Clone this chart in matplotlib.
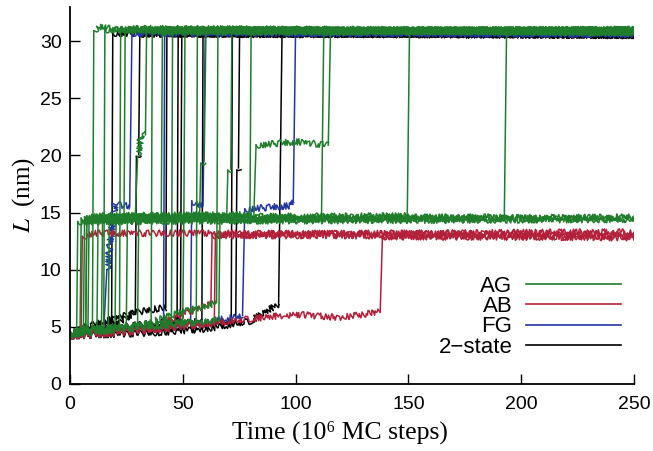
import matplotlib
matplotlib.use("Agg")
import matplotlib.pyplot as plt
from matplotlib.lines import Line2D

plt.rcParams['font.family'] = ['Liberation Sans', 'DejaVu Sans']
plt.rcParams['mathtext.fontset'] = 'stix'

# Trajectories of L (nm) against time (10^6 MC steps).
# Each run is a list of (time, L) breakpoints.
ag_runs = [
    [(0, 4.6), (10, 4.9), (10.6, 30.9), (13, 31.3), (20, 31.0), (250, 30.9)],
    [(0, 4.5), (3, 4.6), (3.5, 14.2), (250, 14.4)],
    [(0, 4.4), (4.5, 4.6), (5, 14.5), (192.5, 14.6), (193.5, 30.8), (250, 31.0)],
    [(0, 4.5), (6, 4.7), (6.5, 14.6), (149.5, 14.7), (150.5, 30.9), (250, 30.7)],
    [(0, 4.3), (8, 4.6), (8.5, 14.4), (111.5, 14.5), (112.5, 30.8), (250, 30.9)],
    [(0, 4.5), (12, 4.8), (12.5, 14.6), (81.5, 14.7), (82.5, 20.9), (100, 21.2), (114.5, 20.9), (115.5, 30.9), (250, 31.0)],
    [(0, 4.4), (15, 4.8), (15.5, 31.0), (250, 30.8)],
    [(0, 4.6), (17, 4.9), (17.5, 14.5), (29, 14.7), (30, 19.9), (31.5, 21.7), (33.5, 21.8), (34, 31.0), (250, 30.9)],
    [(0, 4.5), (22, 5.0), (22.5, 31.1), (250, 30.9)],
    [(0, 4.3), (14, 4.7), (14.5, 14.4), (24, 14.6), (24.5, 31.0), (250, 30.8)],
    [(0, 4.6), (36, 5.2), (36.5, 30.9), (250, 31.0)],
    [(0, 4.4), (20, 4.9), (20.5, 14.5), (40.5, 14.6), (41, 30.8), (250, 30.9)],
    [(0, 4.5), (45, 5.3), (45.5, 31.0), (250, 30.8)],
    [(0, 4.4), (25, 5.0), (25.5, 14.6), (50.5, 14.5), (51, 30.9), (250, 31.0)],
    [(0, 4.5), (50, 5.4), (50.5, 14.5), (57.5, 14.7), (58, 19.3), (59.5, 19.5), (60.3, 30.9), (250, 30.8)],
    [(0, 4.3), (30, 5.0), (45, 6.0), (65, 7.1), (65.6, 31.0), (250, 30.9)],
    [(0, 4.6), (30, 5.1), (30.5, 14.5), (69.5, 14.6), (70, 18.7), (71.3, 18.8), (71.8, 30.9), (250, 31.0)],
    [(0, 4.4), (40, 5.1), (66, 5.6), (66.5, 14.4), (250, 14.5)],
    [(0, 4.5), (7, 4.7), (7.5, 14.7), (79.8, 14.8), (80.3, 30.8), (250, 30.9)],
    [(0, 4.4), (56, 5.4), (56.5, 31.0), (250, 30.9)],
    [(0, 4.5), (7, 4.8), (7.5, 14.3), (250, 14.6)],
]

ab_runs = [
    [(0, 4.3), (5, 4.5), (5.5, 12.9), (10, 13.2), (250, 13.1)],
    [(0, 4.4), (40, 5.2), (62.5, 7.1), (63, 13.0), (250, 12.9)],
    [(0, 4.2), (30, 4.6), (64, 5.5), (64.5, 13.1), (250, 13.3)],
    [(0, 4.3), (40, 4.8), (60, 5.2), (80, 5.7), (100, 6.1), (120, 5.8), (137.5, 6.3), (138.5, 12.9), (250, 12.8)],
]

fg_runs = [
    [(0, 4.4), (15, 4.8), (16.4, 10.0), (20, 15.8), (26.5, 15.5), (27.5, 30.7), (250, 30.6)],
    [(0, 4.5), (53.5, 5.3), (54, 16.0), (59, 15.6), (60, 30.8), (250, 30.7)],
    [(0, 4.3), (50, 5.0), (76.5, 6.0), (77.5, 15.3), (98, 15.6), (99, 16.0), (100, 30.7), (250, 30.6)],
    [(0, 4.2), (41.5, 4.9), (42, 30.8), (250, 30.7)],
]

two_state_runs = [
    [(0, 4.5), (18.5, 5.0), (19, 30.7), (250, 30.5)],
    [(0, 4.4), (20, 5.2), (29, 6.3), (29.5, 19.9), (30.5, 20.1), (31, 30.6), (250, 30.6)],
    [(0, 4.6), (30, 6.3), (42.5, 6.7), (43, 30.7), (250, 30.5)],
    [(0, 4.4), (47.5, 5.4), (48, 30.6), (250, 30.6)],
    [(0, 4.5), (49, 5.6), (49.6, 30.7), (250, 30.5)],
    [(0, 4.3), (58.5, 5.5), (59, 30.6), (250, 30.6)],
    [(0, 4.4), (60, 5.2), (73.5, 5.6), (74, 18.7), (74.7, 18.9), (75.2, 30.6), (250, 30.5)],
    [(0, 4.2), (40, 4.5), (60, 4.8), (80, 5.5), (92.5, 7.0), (94, 30.6), (250, 30.6)],
    [(0, 4.5), (71.5, 5.5), (72, 30.7), (250, 30.6)],
]

groups = ['AG', 'AB', 'FG', '2\u2212state']
group_runs = [ag_runs, ab_runs, fg_runs, two_state_runs]
colors = ['#1f7d2b', '#b3203a', '#2236a0', '#000000']
draw_order = [3, 2, 1, 0]


def split_run(run):
    # break a run into plateau pieces and jump pieces
    pieces = []
    cur = [run[0]]
    cur_jump = None
    for a, b in zip(run[:-1], run[1:]):
        jump = abs(b[1] - a[1]) / max(b[0] - a[0], 1e-6) > 2
        if cur_jump is None or jump == cur_jump:
            cur.append(b)
        else:
            pieces.append((cur_jump, cur))
            cur = [a, b]
        cur_jump = jump
    pieces.append((cur_jump, cur))
    return pieces


fig = plt.figure(figsize=(6.53, 4.51), dpi=100)
ax = fig.add_axes([0.107, 0.1486, 0.864, 0.8364])

for g in draw_order:
    for run in group_runs[g]:
        for jump, pts in split_run(run):
            t = [p[0] for p in pts]
            L = [p[1] for p in pts]
            line, = ax.plot(t, L, color=colors[g], lw=1.1)
            if not jump:
                line.set_sketch_params(scale=3.2, length=2.5, randomness=4)

ax.set_xlim(0, 250)
ax.set_ylim(0, 33)
ax.set_xticks(range(0, 251, 50))
ax.set_yticks(range(0, 31, 5))
ax.spines['top'].set_visible(False)
ax.spines['right'].set_visible(False)
ax.spines['left'].set_linewidth(1.3)
ax.spines['bottom'].set_linewidth(1.3)
ax.tick_params(direction='in', length=7, width=1.0, labelsize=14, pad=6)
ax.tick_params(axis='x', pad=9)

ax.set_xlabel('Time (10\u2076 MC steps)', family='Liberation Serif', fontsize=18.5)
ax.xaxis.set_label_coords(0.479, -0.097)
ax.set_ylabel('$L$  (nm)', family='Liberation Serif', fontsize=18)
ax.yaxis.set_label_coords(-0.058, 0.5)

handles = [Line2D([], [], color=c, lw=1.2) for c in colors]
ax.legend(handles, groups, loc='lower right', bbox_to_anchor=(0.997, 0.04),
          frameon=False, markerfirst=False, fontsize=16, handlelength=4.3,
          handletextpad=0.6, labelspacing=-0.03, borderpad=0)

fig.savefig('out.png', dpi=100)
